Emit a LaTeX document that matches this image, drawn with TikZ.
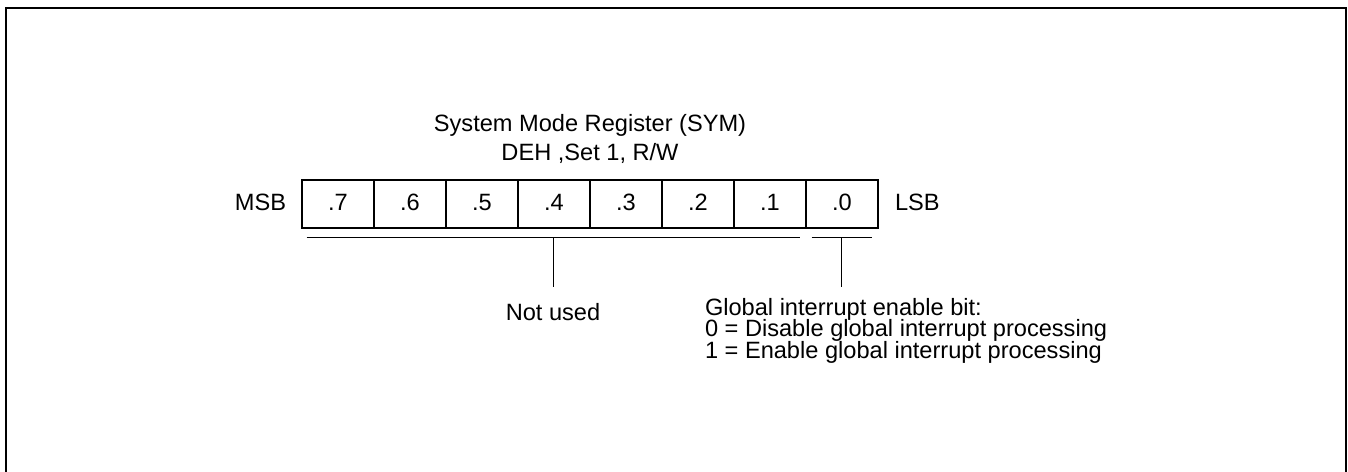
\documentclass[tikz,border=0pt]{standalone}
\usepackage{fontspec}
\setmainfont{Liberation Sans}
\begin{document}
\begin{tikzpicture}[x=1pt,y=-1pt,
  txt/.style={inner sep=0pt, outer sep=0pt, font=\fontsize{23.6}{28}\selectfont},
  cell/.style={draw, line width=1.6pt, minimum width=72pt, minimum height=48pt,
    inner sep=0pt, text height=18pt, text depth=6pt, font=\fontsize{23.6}{28}\selectfont},
  brk/.style={line width=1.4pt},
  frame/.style={line width=2.2pt}]
\useasboundingbox (0,0) rectangle (1348,471);
\draw[frame] (6,8) rectangle (1346,495);

% title
\node[txt, anchor=base] (t1) at (590,131.7) {System Mode Register (SYM)};
\node[txt, anchor=base] (t2) at (590,160) {DEH ,Set 1, R/W};

% register cells
\node[cell] (b7) at (338,204) {.7};
\node[cell] (b6) at (410,204) {.6};
\node[cell] (b5) at (482,204) {.5};
\node[cell] (b4) at (554,204) {.4};
\node[cell] (b3) at (626,204) {.3};
\node[cell] (b2) at (698,204) {.2};
\node[cell] (b1) at (770,204) {.1};
\node[cell] (b0) at (842,204) {.0};

\node[txt, anchor=base east] (msb) at (286,210) {MSB};
\node[txt, anchor=base west] (lsb) at (895,210) {LSB};

% brackets
\coordinate (l1) at (306.7,237.3);
\coordinate (l2) at (800,237.3);
\coordinate (r1) at (811.7,237.3);
\coordinate (r2) at (871.7,237.3);
\coordinate (lv) at (553.3,237.3);
\coordinate (lve) at (553.3,287);
\coordinate (rv) at (841.7,237.3);
\coordinate (rve) at (841.7,287);
\draw[brk] (l1) -- (l2);
\draw[brk] (r1) -- (r2);
\draw[brk] (lv) -- (lve);
\draw[brk] (rv) -- (rve);

% descriptions
\node[txt, anchor=base] (nu) at (553,320) {Not used};
\node[txt, anchor=base west] (g1) at (705,315) {Global interrupt enable bit:};
\node[txt, anchor=base west] (g2) at (705,336.5) {0 = Disable global interrupt processing};
\node[txt, anchor=base west] (g3) at (705,358) {1 = Enable global interrupt processing};
\end{tikzpicture}
\end{document}
